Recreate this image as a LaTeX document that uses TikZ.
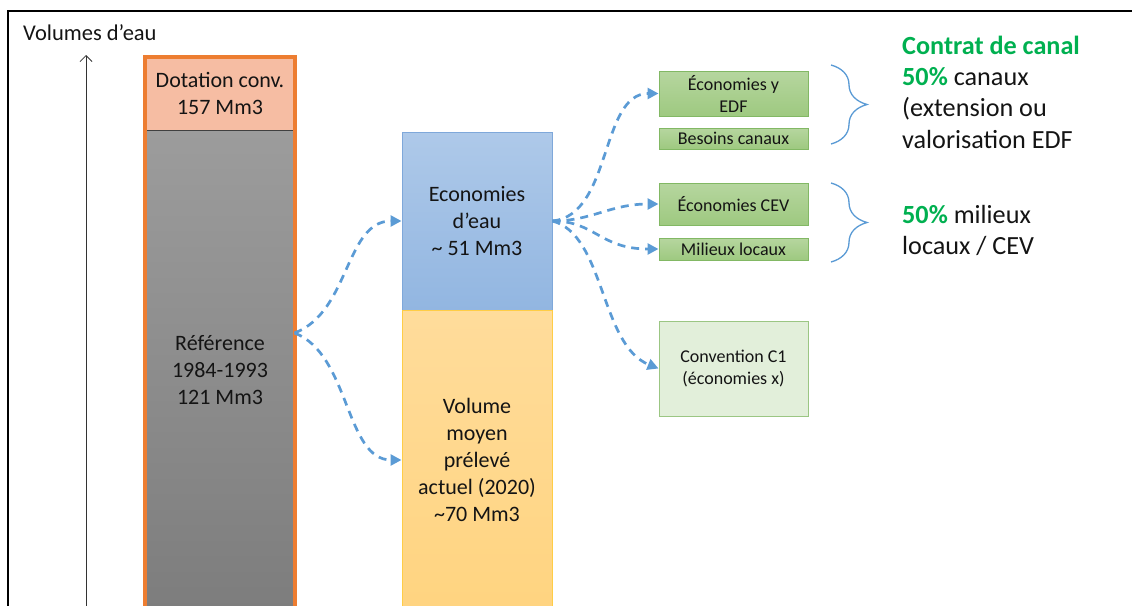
\documentclass[tikz,border=0pt]{standalone}
\usepackage{fontspec}
\setmainfont{Carlito}
\usetikzlibrary{arrows.meta,decorations.pathreplacing}

\definecolor{orangeline}{RGB}{237, 125, 49}
\definecolor{salmonfill}{RGB}{246, 189, 163}
\definecolor{graytop}{RGB}{156, 156, 156}
\definecolor{graybot}{RGB}{125, 125, 125}
\definecolor{grayline}{RGB}{64, 64, 64}
\definecolor{bluetop}{RGB}{174, 201, 233}
\definecolor{bluebot}{RGB}{146, 182, 225}
\definecolor{blueline}{RGB}{127, 168, 218}
\definecolor{yellowtop}{RGB}{255, 220, 155}
\definecolor{yellowbot}{RGB}{255, 212, 128}
\definecolor{yellowline}{RGB}{255, 205, 70}
\definecolor{greentop}{RGB}{182, 214, 159}
\definecolor{greenbot}{RGB}{158, 201, 128}
\definecolor{greenline}{RGB}{130, 184, 100}
\definecolor{palegreen}{RGB}{226, 239, 218}
\definecolor{flowcol}{RGB}{91, 155, 213}
\definecolor{greentext}{RGB}{0, 176, 80}
\definecolor{textcol}{RGB}{20, 20, 20}

\begin{document}
\begin{tikzpicture}[x=1pt, y=-1pt,
    bar/.style={rectangle, inner sep=0pt, align=center, font=\fontsize{22}{27}\selectfont, text=textcol},
    smallbox/.style={rectangle, inner sep=0pt, align=center, minimum width=149pt,
        draw=greenline, line width=1pt, top color=greentop, bottom color=greenbot,
        font=\fontsize{18}{22}\selectfont, text=textcol},
    flow/.style={flowcol, line width=2.7pt, dash pattern=on 8pt off 6pt,
        -{Triangle[length=11pt, width=11pt]}},
    curly/.style={flowcol, line width=1.3pt, decorate,
        decoration={brace, amplitude=36pt}},
    note/.style={anchor=west, align=left, inner sep=0pt,
        font=\fontsize{26.2}{31.3}\selectfont, text=textcol}]
    \useasboundingbox (0,0) rectangle (1132,605);
    \clip (0,0) rectangle (1132,605);

    % Frame
    \draw[black, line width=1.5pt] (8,620) -- (8,11) -- (1140,11);

    % Axis
    \node[anchor=west, inner sep=0pt, font=\fontsize{22.5}{26}\selectfont, text=textcol] (axlab) at (23,33) {Volumes d’eau};
    \coordinate (axbot) at (86,620);
    \coordinate (axtop) at (86,55);
    \draw[black!80, line width=0.8pt, -{Straight Barb[length=6pt, width=12pt]}] (axbot) -- (axtop);

    % Left bar: dotation and reference
    \node[bar, minimum width=150pt, minimum height=75pt, fill=salmonfill] (dot) at (220,93) {Dotation conv.\\157 Mm3};
    \node[bar, minimum width=148pt, minimum height=480pt, draw=grayline, line width=1pt,
        top color=graytop, bottom color=graybot] (ref) at (220,370) {Référence\\1984-1993\\121 Mm3};
    \draw[orangeline, line width=4pt] (145,620) -- (145,57) -- (295,57) -- (295,620);

    % Middle bar: economies and volume
    \node[bar, minimum width=150pt, minimum height=178pt, draw=blueline, line width=1pt,
        top color=bluetop, bottom color=bluebot] (eco) at (477,221) {Economies\\d’eau\\\textasciitilde{} 51 Mm3};
    \node[bar, minimum width=150pt, minimum height=300pt, draw=yellowline, line width=1pt,
        top color=yellowtop, bottom color=yellowbot] (vol) at (477,460) {Volume\\moyen\\prélevé\\actuel (2020)\\\textasciitilde70 Mm3};

    % Green boxes
    \node[smallbox, minimum height=45pt] (ecoy) at (733.5,93.5) {Économies y\\EDF};
    \node[smallbox, minimum height=21pt] (besoin) at (733.5,138.5) {Besoins canaux};
    \node[smallbox, minimum height=42pt] (cev) at (733.5,204) {Économies CEV};
    \node[smallbox, minimum height=22pt] (milieu) at (733.5,249) {Milieux locaux};
    \node[smallbox, minimum height=95pt, draw=greenline!80, top color=palegreen, bottom color=palegreen] (conv) at (733.5,368.5) {Convention C1\\(économies x)};

    % Dashed flows
    \coordinate (refout) at ([yshift=37pt]ref.east);
    \draw[flow] (refout) .. controls (350,312) and (345,221) .. (eco.west);
    \draw[flow] (refout) .. controls (350,354) and (345,460) .. (vol.west);
    \draw[flow] (eco.east) .. controls (612,215) and (600,93.5) .. (ecoy.west);
    \draw[flow] (eco.east) .. controls (592,221) and (610,204) .. (cev.west);
    \draw[flow] (eco.east) .. controls (595,221) and (600,249) .. (milieu.west);
    \draw[flow] (eco.east) .. controls (605,235) and (600,345) .. (conv.west);

    % Braces
    \draw[curly] (831,65) -- (831,144);
    \draw[curly] (831,183) -- (831,262);

    % Notes
    \node[note] (canal) at (902,92) {{\color{greentext}\bfseries Contrat de canal}\\{\color{greentext}\bfseries 50\%} canaux\\(extension ou\\valorisation EDF};
    \node[note] (milieux) at (902,230.5) {{\color{greentext}\bfseries 50\%} milieux\\locaux / CEV};

\end{tikzpicture}
\end{document}
